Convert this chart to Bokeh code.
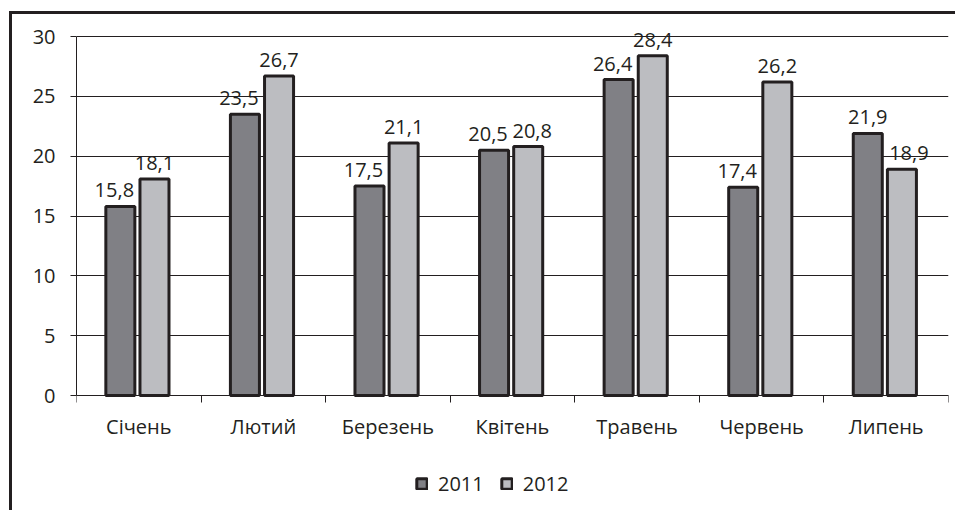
from bokeh.plotting import figure
from bokeh.models import (ColumnDataSource, FactorRange, Range1d, LinearAxis,
                          FixedTicker, Legend, LegendItem, Grid, InlineStyleSheet)
from bokeh.transform import dodge
from bokeh.embed import file_html
from bokeh.resources import INLINE
from bokeh.core.properties import value

# ---- data ----
months = ["Січень", "Лютий", "Березень", "Квітень", "Травень", "Червень", "Липень"]
v2011 = [15.8, 23.5, 17.5, 20.5, 26.4, 17.4, 21.9]
v2012 = [18.1, 26.7, 21.1, 20.8, 28.4, 26.2, 18.9]
series_names = ["2011", "2012"]
y_ticks = [0, 5, 10, 15, 20, 25, 30]

FONT = "Open Sans"
INK = "#231f20"
DARK = "#808085"
LIGHT = "#bcbdc1"

def fmt(v):
    return f"{v:.1f}".replace(".", ",")

# label shift: labels move apart when they would collide with the neighbouring bar or label
off2011 = [-6 if b > a else 0 for a, b in zip(v2011, v2012)]
off2012 = [7 if a >= b else (4 if b - a < 1 else 0) for a, b in zip(v2011, v2012)]

src = ColumnDataSource(dict(
    month=months, v2011=v2011, v2012=v2012,
    l2011=[fmt(v) for v in v2011], l2012=[fmt(v) for v in v2012],
    o2011=off2011, o2012=off2012,
))

# geometry: value axis spans 359 px for 0..30 (top tick at row 36);
# the frame reaches up to row 14 and down to the bottom edge
W, H = 955, 510
TICK_TOP, FRAME_TOP, LEFT, RIGHT = 36, 14, 76, 7
AXIS_PX = 359
px_per_unit = AXIS_PX / (y_ticks[-1] - y_ticks[0])
below_px = H - TICK_TOP - AXIS_PX
y_start = y_ticks[0] - below_px / px_per_unit
y_end = y_ticks[-1] + (TICK_TOP - FRAME_TOP) / px_per_unit

p = figure(width=W, height=H,
           x_range=FactorRange(*months, range_padding=0),
           y_range=Range1d(y_start, y_end),
           output_backend="svg", toolbar_location=None,
           x_axis_location=None, y_axis_location=None,
           min_border_left=LEFT, min_border_right=RIGHT, min_border_top=FRAME_TOP,
           min_border_bottom=0)
p.center = [c for c in p.center if not isinstance(c, Grid)]
p.outline_line_color = None
p.stylesheets = [InlineStyleSheet(css=(
    ":host::after { content: ''; position: absolute; left: 9px; top: 11px; right: 0; bottom: 0;"
    " border-left: 3px solid #231f20; border-top: 3px solid #231f20;"
    " pointer-events: none; z-index: 10; }"))]

yticker = FixedTicker(ticks=y_ticks)
p.add_layout(Grid(dimension=1, ticker=yticker, grid_line_color=INK, grid_line_width=1), "center")

yaxis = LinearAxis(ticker=yticker, bounds=(y_ticks[0], y_ticks[-1]),
                   major_tick_out=6, major_tick_in=0, minor_tick_out=0, minor_tick_in=0,
                   axis_line_color=INK, major_tick_line_color=INK,
                   major_label_text_font=FONT, major_label_text_font_size="20px",
                   major_label_text_color=INK, major_label_standoff=15)
p.add_layout(yaxis, "left")

# labels at category centres, tick marks at category boundaries; axis sits at y = 0
centres = [i + 0.5 for i in range(len(months))]
bounds = list(range(len(months) + 1))
xaxis = LinearAxis(ticker=FixedTicker(ticks=centres, minor_ticks=bounds),
                   major_label_overrides={c: m for c, m in zip(centres, months)},
                   fixed_location=y_ticks[0],
                   major_tick_out=0, major_tick_in=0, major_tick_line_color=None,
                   minor_tick_out=7, minor_tick_in=0, minor_tick_line_color=INK,
                   axis_line_color=INK,
                   major_label_text_font=FONT, major_label_text_font_size="20px",
                   major_label_text_color=INK, major_label_standoff=10)
p.add_layout(xaxis, "below")

r1 = p.vbar(x=dodge("month", -0.148, range=p.x_range), top="v2011", width=0.233, source=src,
            fill_color=DARK, line_color=INK, line_width=3)
r2 = p.vbar(x=dodge("month", 0.126, range=p.x_range), top="v2012", width=0.233, source=src,
            fill_color=LIGHT, line_color=INK, line_width=3)

for col, lab, off, dx in (("v2011", "l2011", "o2011", -0.148), ("v2012", "l2012", "o2012", 0.126)):
    p.text(x=dodge("month", dx, range=p.x_range), y=col, text=lab, source=src,
           x_offset=off, y_offset=-16,
           text_align="center", text_baseline="alphabetic",
           text_font=value(FONT), text_font_size="20px", text_color=INK)

legend = Legend(items=[LegendItem(label=series_names[0], renderers=[r1]),
                       LegendItem(label=series_names[1], renderers=[r2])],
                orientation="horizontal", location=(339, 13),
                border_line_color=None, background_fill_alpha=0,
                label_text_font=FONT, label_text_font_size="20px", label_text_color=INK,
                glyph_width=13, glyph_height=13, label_standoff=10, spacing=16,
                padding=0, margin=0)
p.add_layout(legend, "center")

open("out.html", "w").write(file_html(p, INLINE))
